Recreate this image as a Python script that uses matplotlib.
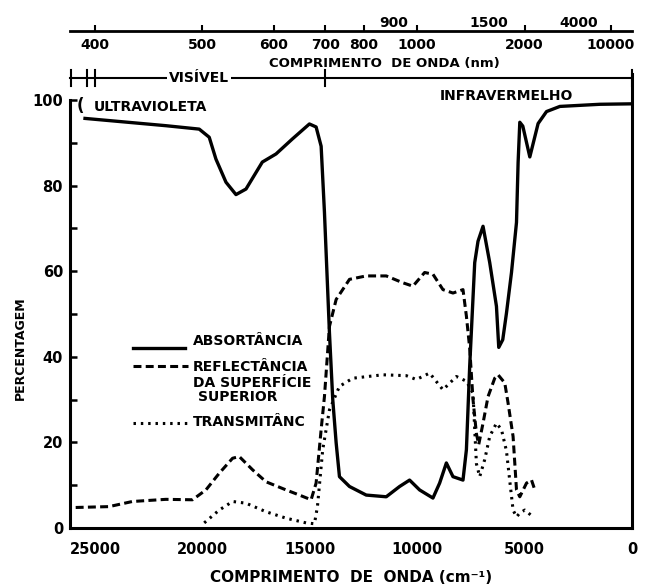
import numpy as np
import matplotlib.pyplot as plt

plt.rcParams['font.family'] = ['DejaVu Sans']
plt.rcParams['font.weight'] = 'bold'

# wavenumber (cm-1) and percentage
wn_abs = [25466, 21703, 20149, 19683, 19371, 18904, 18438, 17971, 17211, 16572,
          15812, 15019, 14707, 14473, 14319, 14086, 13932, 13774, 13620, 13153,
          12375, 11442, 10821, 10355, 9889, 9268, 8956, 8643, 8335, 7869,
          7710, 7557, 7323, 7170, 6936, 6624, 6311, 6204, 6018, 5845,
          5611, 5378, 5303, 5224, 5084, 4758, 4372, 3980, 3359, 1494, 100]
absortancia = [95.7, 94.0, 93.2, 91.3, 86.2, 80.8, 77.9, 79.2, 85.5, 87.4,
               90.9, 94.4, 93.7, 89.2, 73.8, 45.6, 30.0, 19.9, 12.0, 9.7,
               7.7, 7.3, 9.7, 11.2, 8.9, 7.0, 10.5, 15.2, 12.0, 11.2,
               18.3, 37.8, 62.0, 67.0, 70.5, 62.0, 51.8, 42.2, 44.0, 50.2,
               59.7, 71.4, 85.4, 94.8, 93.9, 86.7, 94.5, 97.3, 98.5, 99.0, 99.1]

wn_refl = [25900, 24347, 23260, 21703, 20462, 19837, 19217, 18596, 18284, 17664,
           17038, 16106, 15485, 14940, 14707, 14473, 14319, 14086, 13774, 13153,
           12375, 11442, 10668, 10200, 9655, 9268, 8802, 8335, 7869, 7710,
           7557, 7402, 7243, 7137, 6936, 6703, 6391, 6236, 5924, 5770,
           5537, 5458, 5378, 5224, 4911, 4678, 4524]
reflectancia = [4.8, 5.0, 6.2, 6.7, 6.6, 8.9, 12.8, 16.3, 16.7, 13.6,
                10.8, 8.9, 7.7, 6.6, 10.5, 23.0, 30.7, 47.1, 53.4, 58.1,
                58.9, 58.9, 57.3, 56.5, 59.7, 59.3, 55.7, 54.9, 55.7, 49.5,
                42.0, 30.0, 22.0, 19.5, 24.5, 30.7, 35.0, 35.8, 33.9, 29.2,
                21.4, 15.2, 8.9, 7.3, 10.5, 11.2, 8.9]

wn_trans = [19916, 19217, 18596, 17971, 17038, 16106, 15173, 14785, 14645, 14399,
            14086, 13620, 12999, 11600, 10509, 10043, 9422, 8802, 8176, 7710,
            7402, 7323, 7243, 7090, 6857, 6624, 6311, 6078, 5845, 5691,
            5537, 5378, 5224, 4992, 4605]
transmitancia = [1.2, 4.2, 6.2, 5.8, 3.8, 2.3, 1.2, 1.0, 5.0, 18.3,
                 27.6, 33.1, 35.0, 35.8, 35.6, 34.7, 36.2, 32.3, 35.4, 34.3,
                 31.5, 23.0, 15.0, 12.0, 16.0, 21.4, 24.5, 23.0, 18.0, 11.0,
                 4.2, 2.6, 3.5, 4.2, 2.6]

wn_ticks = [25000, 20000, 15000, 10000, 5000, 0]
nm_ticks = [400, 500, 600, 700, 800, 1000, 2000, 10000]
nm_ticks_upper = [900, 1500, 4000]


def cm_nm(x):
    # 1e7 / x works both ways (cm-1 <-> nm)
    x = np.asarray(x, dtype=float)
    return 1e7 / np.clip(x, 1.0, None)


fig = plt.figure(figsize=(6.62, 5.88), dpi=100)
ax = fig.add_axes([0.1057, 0.102, 0.849, 0.7716])

ax.plot(wn_abs, absortancia, color='black', lw=2.4)
ax.plot(wn_refl, reflectancia, color='black', lw=2.2, linestyle=(0, (2.6, 1.4)))
ax.plot(wn_trans, transmitancia, color='black', lw=2.2, linestyle=(0, (0.8, 1.6)))

ax.set_xlim(26166, 0)
ax.set_ylim(0, 106)
ax.spines['top'].set_visible(False)
ax.spines['left'].set_bounds(0, 100)
for s in ['left', 'right', 'bottom']:
    ax.spines[s].set_linewidth(2.2)

ax.set_xticks(wn_ticks)
ax.set_xticklabels([str(t) for t in wn_ticks])
ax.tick_params(axis='x', length=0, pad=10, labelsize=10.5)
ax.set_yticks([0, 20, 40, 60, 80, 100])
ax.set_yticks([10, 30, 50, 70, 90], minor=True)
ax.tick_params(axis='y', which='both', direction='in', length=5, width=1.8,
               labelsize=10.5, pad=5)

# wavelength axis on top
sec = ax.secondary_xaxis(1.095, functions=(cm_nm, cm_nm))
sec.set_xticks(nm_ticks, labels=[str(t) for t in nm_ticks])
sec.set_xticks(nm_ticks_upper, labels=[str(t) for t in nm_ticks_upper], minor=True)
sec.tick_params(which='major', direction='out', length=4, width=1.5,
                labeltop=False, labelbottom=True, labelsize=10, pad=1)
sec.tick_params(which='minor', length=0, labeltop=True, labelbottom=False,
                labelsize=10, pad=1)
sec.spines['top'].set_linewidth(2)
ax.text(0.56, 1.024, 'COMPRIMENTO  DE ONDA (nm)', transform=ax.transAxes,
        ha='center', va='center', fontsize=9.5)

# spectral regions bracket
ax.plot([26166, 0], [105.1, 105.1], color='black', lw=1.5, clip_on=False)
for w in [26100, 25373, 25000, 1e7 / 700, 0]:
    ax.plot([w, w], [103.3, 106.9], color='black', lw=1.5, clip_on=False)
ax.text(20149, 105.1, 'VISÍVEL', ha='center', va='center', fontsize=10,
        bbox=dict(facecolor='white', edgecolor='none', pad=1.5))
ax.text(25700, 98.6, '(', ha='center', va='center', fontsize=12)
ax.text(25047, 98.4, 'ULTRAVIOLETA', ha='left', va='center', fontsize=10)
ax.text(5831, 100.9, 'INFRAVERMELHO', ha='center', va='center', fontsize=10)

# legend drawn by hand
ax.plot([0.112, 0.205], [0.397, 0.397], transform=ax.transAxes, color='black', lw=2.4)
ax.plot([0.112, 0.21], [0.357, 0.357], transform=ax.transAxes, color='black',
        lw=2.2, linestyle=(0, (2.6, 1.4)))
ax.plot([0.112, 0.21], [0.231, 0.231], transform=ax.transAxes, color='black',
        lw=2.2, linestyle=(0, (0.8, 1.6)))
ax.text(0.219, 0.412, 'ABSORTÂNCIA', transform=ax.transAxes, va='center', fontsize=10)
ax.text(0.219, 0.355, 'REFLECTÂNCIA', transform=ax.transAxes, va='center', fontsize=10)
ax.text(0.219, 0.320, 'DA SUPERFÍCIE', transform=ax.transAxes, va='center', fontsize=10)
ax.text(0.228, 0.289, 'SUPERIOR', transform=ax.transAxes, va='center', fontsize=10)
ax.text(0.219, 0.234, 'TRANSMITÂNC', transform=ax.transAxes, va='center', fontsize=10)

ax.text(-0.089, 0.397, 'PERCENTAGEM', transform=ax.transAxes, rotation=90,
        ha='center', va='center', fontsize=9)
ax.text(0.5, -0.108, 'COMPRIMENTO  DE  ONDA (cm⁻¹)', transform=ax.transAxes,
        ha='center', va='center', fontsize=11)

fig.savefig('out.png', dpi=100)
